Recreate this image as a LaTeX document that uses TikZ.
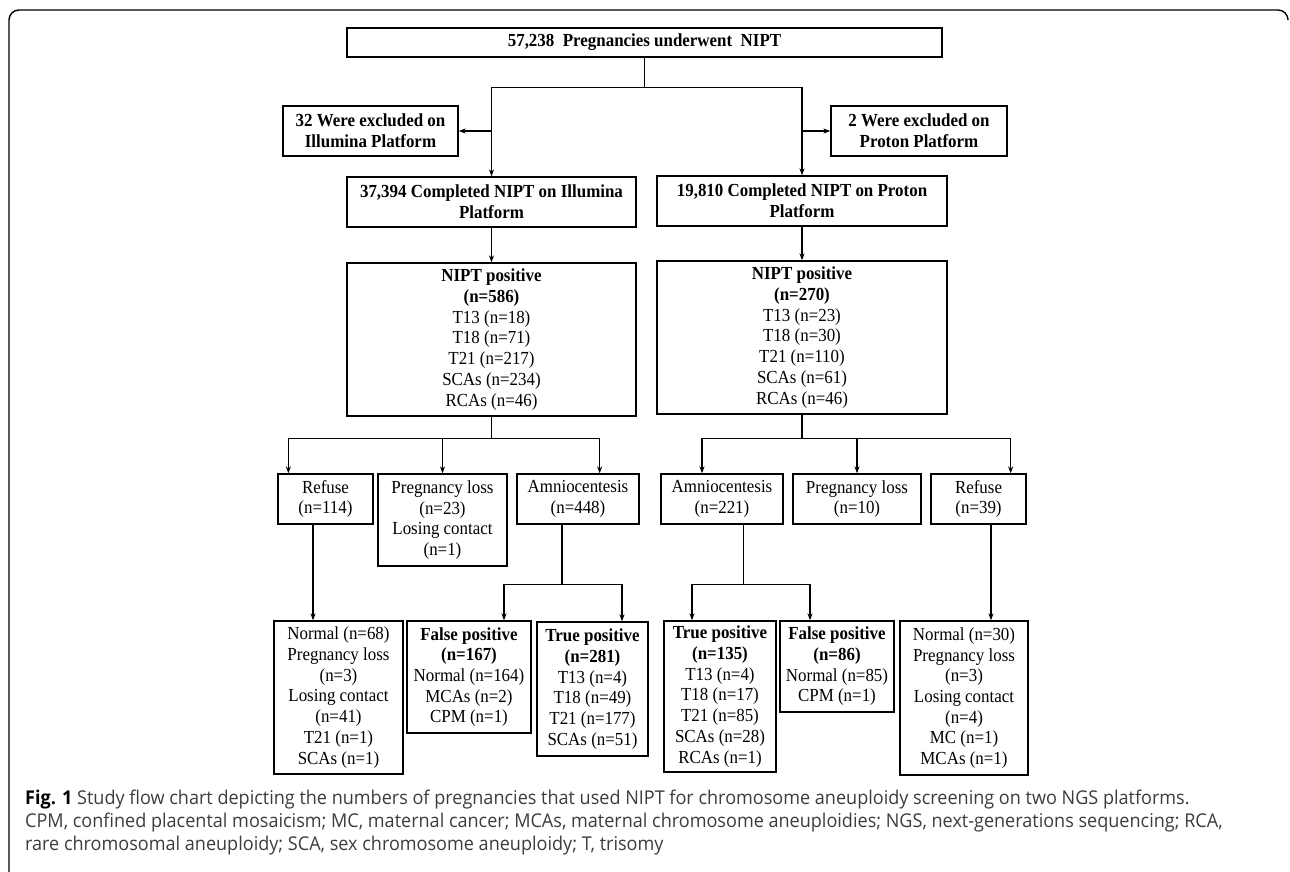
\documentclass[tikz,border=0pt]{standalone}
\usepackage{fontspec}
\setmainfont{Liberation Serif}[FakeStretch=0.92]
\newfontfamily\capfont{Open Sans}[FakeStretch=0.95]
\usetikzlibrary{arrows.meta, positioning, calc}
\definecolor{captext}{RGB}{60,60,60}

\begin{document}
\begin{tikzpicture}[x=1pt, y=-1pt]
        % Define styles
        \tikzstyle{stage} = [draw, line width=1.3pt, inner sep=2pt, align=center, font=\fontsize{18.4}{20.7}\selectfont]
        \tikzstyle{link} = [-{Stealth[length=7pt, width=5pt]}, line width=1.1pt]
        \tikzstyle{conn} = [line width=1.1pt]
        \tikzstyle{caption} = [anchor=base west, inner sep=0pt, font=\capfont\fontsize{19}{22}\selectfont, text=captext]

        \useasboundingbox (0,0) rectangle (1290,871);

        % Frame
        \draw[line width=1.4pt, rounded corners=10pt] (9,880) -- (9,10) -- (1288,10) -- (1288,18);

        % Screening and platforms
        \node[stage, minimum width=595pt, minimum height=29pt] (all) at (644.5,42.5) {\textbf{57,238~~Pregnancies underwent~~NIPT}};
        \node[stage, minimum width=175pt, minimum height=50pt] (exclL) at (370.5,131) {\textbf{32 Were excluded on}\\\textbf{Illumina Platform}};
        \node[stage, minimum width=176pt, minimum height=50pt] (exclR) at (919,131) {\textbf{2 Were excluded on}\\\textbf{Proton Platform}};
        \node[stage, minimum width=289pt, minimum height=50pt] (illu) at (491.5,202) {\textbf{37,394 Completed NIPT on Illumina}\\\textbf{Platform}};
        \node[stage, minimum width=290pt, minimum height=50pt] (prot) at (802,201) {\textbf{19,810 Completed NIPT on Proton}\\\textbf{Platform}};

        % NIPT positive
        \node[stage, minimum width=289pt, minimum height=153pt] (nipL) at (491.5,339.5) {\textbf{NIPT positive}\\\textbf{(n=586)}\\T13 (n=18)\\T18 (n=71)\\T21 (n=217)\\SCAs (n=234)\\RCAs (n=46)};
        \node[stage, minimum width=290pt, minimum height=153pt] (nipR) at (802,337.5) {\textbf{NIPT positive}\\\textbf{(n=270)}\\T13 (n=23)\\T18 (n=30)\\T21 (n=110)\\SCAs (n=61)\\RCAs (n=46)};

        % Follow-up
        \node[stage, minimum width=95pt, minimum height=50pt] (refL) at (325.5,499) {Refuse\\(n=114)};
        \node[stage, minimum width=129pt, minimum height=92pt] (lossL) at (442.5,520) {Pregnancy loss\\(n=23)\\Losing contact\\(n=1)};
        \node[stage, minimum width=122pt, minimum height=50pt] (amnL) at (578,499) {Amniocentesis\\(n=448)};
        \node[stage, minimum width=122pt, minimum height=50pt] (amnR) at (722,499) {Amniocentesis\\(n=221)};
        \node[stage, minimum width=128pt, minimum height=50pt] (lossR) at (857,499) {Pregnancy loss\\(n=10)};
        \node[stage, minimum width=95pt, minimum height=50pt] (refR) at (978.5,499) {Refuse\\(n=39)};

        % Outcomes
        \node[stage, minimum width=129pt, minimum height=153pt] (outL) at (338.5,697.5) {Normal (n=68)\\Pregnancy loss\\(n=3)\\Losing contact\\(n=41)\\T21 (n=1)\\SCAs (n=1)};
        \node[stage, minimum width=124pt, minimum height=112pt] (fpL) at (469,677) {\textbf{False positive}\\\textbf{(n=167)}\\Normal (n=164)\\MCAs (n=2)\\CPM (n=1)};
        \node[stage, minimum width=111pt, minimum height=134pt] (tpL) at (592.5,689) {\textbf{True positive}\\\textbf{(n=281)}\\T13 (n=4)\\T18 (n=49)\\T21 (n=177)\\SCAs (n=51)};
        \node[stage, minimum width=112pt, minimum height=151pt] (tpR) at (720,696.5) {\textbf{True positive}\\\textbf{(n=135)}\\T13 (n=4)\\T18 (n=17)\\T21 (n=85)\\SCAs (n=28)\\RCAs (n=1)};
        \node[stage, minimum width=114pt, minimum height=91pt] (fpR) at (837,666.5) {\textbf{False positive}\\\textbf{(n=86)}\\Normal (n=85)\\CPM (n=1)};
        \node[stage, minimum width=128pt, minimum height=154pt] (outR) at (964,698) {Normal (n=30)\\Pregnancy loss\\(n=3)\\Losing contact\\(n=4)\\MC (n=1)\\MCAs (n=1)};

        % Connections
        \draw[conn] (all.south) -- ++(0,30) coordinate (split);
        \draw[link] (split) -| (illu.north);
        \draw[link] (split) -| (prot.north);
        \draw[link] (exclL.east -| illu.north) -- (exclL.east);
        \draw[link] (exclR.west -| prot.north) -- (exclR.west);
        \draw[link] (illu.south) -- (nipL.north);
        \draw[link] (prot.south) -- (nipR.north);

        \draw[conn] (nipL.south) -- ++(0,22) coordinate (forkL);
        \draw[link] (forkL) -| ([xshift=11pt]refL.north west);
        \draw[link] (forkL) -| ([xshift=-40pt]amnL.north east);
        \draw[link] (forkL -| lossL.north) -- (lossL.north);

        \draw[conn] (nipR.south) -- ++(0,24) coordinate (forkR);
        \draw[link] (forkR) -| ([xshift=-20pt]amnR.north);
        \draw[link] (forkR) -| ([xshift=-16pt]refR.north east);
        \draw[link] (forkR -| lossR.north) -- (lossR.north);

        \draw[conn] ([xshift=-16pt]amnL.south) -- ++(0,60) coordinate (forkA);
        \draw[link] (forkA) -| ([xshift=35pt]fpL.north);
        \draw[link] (forkA) -| ([xshift=29.5pt]tpL.north);
        \draw[conn] ([xshift=21.5pt]amnR.south) -- ++(0,60) coordinate (forkB);
        \draw[link] (forkB) -| ([xshift=-28pt]tpR.north);
        \draw[link] (forkB) -| ([xshift=-27pt]fpR.north);

        \coordinate (refLout) at ([xshift=-12.5pt]refL.south);
        \coordinate (refRout) at ([xshift=12.5pt]refR.south);
        \draw[link] (refLout) -- (refLout |- outL.north);
        \draw[link] (refRout) -- (refRout |- outR.north);

        % Caption
        \node[caption] (cap1) at (25,804) {{\bfseries\color{black}Fig. 1} Study flow chart depicting the numbers of pregnancies that used NIPT for chromosome aneuploidy screening on two NGS platforms.};
        \node[caption] (cap2) at (25,827) {CPM, confined placental mosaicism; MC, maternal cancer; MCAs, maternal chromosome aneuploidies; NGS, next-generations sequencing; RCA,};
        \node[caption] (cap3) at (25,850) {rare chromosomal aneuploidy; SCA, sex chromosome aneuploidy; T, trisomy};

    \end{tikzpicture}
\end{document}
